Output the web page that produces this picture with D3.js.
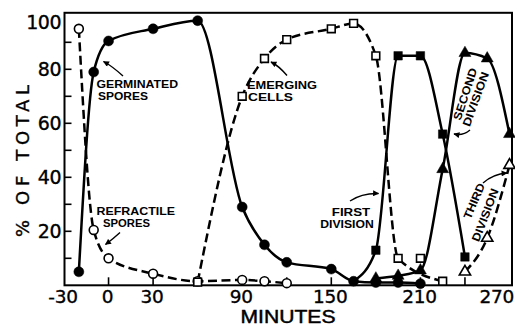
<!DOCTYPE html>
<html><head><meta charset="utf-8">
<script src="https://cdn.jsdelivr.net/npm/d3@7"></script>
<style>html,body{margin:0;padding:0;background:#fff;}svg{display:block;}</style>
</head><body>
<svg id="c" width="515" height="327"></svg>
<script>
// ---- data (minutes, % of total) ----
const germinatedSpores = [[-20,5],[-10,79],[0,90.5],[30,95],[60,98],[90,29],[105,15],[120,8.5],[150,6],[165,1.5],[180,1],[195,1],[210,0.6]];
const refractileSpores = [[-20,95],[-10,20.5],[0,10],[30,4.3],[60,1.5],[90,2],[105,1.5],[120,0.8]];
const emergingCells = [[60,1.2],[90,70],[105,84],[120,91],[150,95],[165,97],[180,85],[195,10],[225,1.5]];
const emergingCellsOffCurve = [[210,10]];
const firstDivision = [[165,1.5],[180,13],[195,85],[210,85],[225,56],[240,10.5]]; // first point shared with germinated curve
const secondDivision = [[180,2.5],[195,3.5],[210,5.5],[225,43],[240,86],[255,84],[270,56]];
const thirdDivision = [[240,5],[255,17.5],[270,44.5]];
const xTickLabels = [-30,0,30,90,150,210,270];
const xTickMarks = [0,30,60,90,120,150,180,210,240];
const yTickLabels = [20,40,60,80,100];
const yTickMarks = [10,20,30,40,50,60,70,80,90];

const svg = d3.select("#c");
const x = d3.scaleLinear().domain([-30,270]).range([64,509.5]);
const y = d3.scaleLinear().domain([0,100]).range([285.3,15.3]);
const fL = 64.5, fR = 512, fT = 12.8, fB = 285.3;

// frame
svg.append("rect").attr("x",fL).attr("y",fT).attr("width",fR-fL).attr("height",fB-fT)
  .attr("fill","none").attr("stroke","#000").attr("stroke-width",2);

// ticks (inward)
svg.append("g").selectAll("line").data(yTickMarks).join("line")
  .attr("x1",fL).attr("x2",fL+7).attr("y1",d=>y(d)).attr("y2",d=>y(d))
  .attr("stroke","#000").attr("stroke-width",1.6);
svg.append("g").selectAll("line").data(xTickMarks).join("line")
  .attr("x1",d=>x(d)).attr("x2",d=>x(d)).attr("y1",fB).attr("y2",fB-8)
  .attr("stroke","#000").attr("stroke-width",1.6);

// tick labels
const tickFont = "'DejaVu Sans', sans-serif";
svg.append("g").selectAll("text").data(yTickLabels).join("text")
  .attr("x",61).attr("y",d=> d===100 ? 28.6 : y(d)+7)
  .attr("text-anchor","end").attr("font-family",tickFont).attr("font-size",19)
  .attr("stroke","#000").attr("stroke-width",0.35)
  .attr("letter-spacing",-0.5).text(d=>d);
svg.append("g").selectAll("text").data(xTickLabels).join("text")
  .attr("x",d=> d===270 ? 514 : x(d)-1).attr("y",302.9)
  .attr("text-anchor",d=> d===270 ? "end":"middle").attr("font-family",tickFont).attr("font-size",18.5)
  .attr("stroke","#000").attr("stroke-width",0.35)
  .attr("letter-spacing",-0.3).text(d=>d);

// axis titles
svg.append("text").attr("transform","translate(28.5,161) rotate(-90)")
  .attr("text-anchor","middle").attr("font-family",tickFont).attr("font-size",18)
  .attr("stroke","#000").attr("stroke-width",0.35)
  .attr("textLength",152).attr("lengthAdjust","spacing").text("% OF TOTAL");
svg.append("text").attr("x",288).attr("y",323.2).attr("text-anchor","middle")
  .attr("font-family","'Liberation Sans', Arial, sans-serif").attr("font-size",17.5)
  .attr("textLength",95).attr("lengthAdjust","spacingAndGlyphs")
  .attr("stroke","#000").attr("stroke-width",0.45).text("MINUTES");

// lines
const line = d3.line().x(d=>x(d[0])).y(d=>y(d[1])).curve(d3.curveMonotoneX);
function drawLine(data, dashed){
  svg.append("path").attr("d",line(data)).attr("fill","none").attr("stroke","#000")
    .attr("stroke-width",2.5).attr("stroke-dasharray",dashed?"9,4.5":null);
}
drawLine(refractileSpores,true);
drawLine(emergingCells,true);
drawLine(thirdDivision,true);
drawLine(germinatedSpores,false);
drawLine(firstDivision,false);
drawLine(secondDivision,false);

// markers
function drawMarkers(data, type, size, filled){
  svg.append("g").selectAll("path").data(data).join("path")
    .attr("transform",d=>`translate(${x(d[0])},${y(d[1])})`)
    .attr("d",d3.symbol().type(type).size(size)())
    .attr("fill",filled?"#000":"#fff").attr("stroke","#000").attr("stroke-width",filled?0.5:1.6);
}
drawMarkers(refractileSpores,d3.symbolCircle,62,false);
drawMarkers(emergingCells,d3.symbolSquare,60,false);
drawMarkers(emergingCellsOffCurve,d3.symbolSquare,60,false);
drawMarkers(thirdDivision,d3.symbolTriangle,55,false);
drawMarkers(germinatedSpores,d3.symbolCircle,78,true);
drawMarkers(firstDivision.slice(1),d3.symbolSquare,72,true);
drawMarkers(secondDivision,d3.symbolTriangle,62,true);

// annotations
const annFont = "'Liberation Sans', Arial, sans-serif";
function label(txt, x0, y0, w, anchor){
  svg.append("text").attr("x",x0).attr("y",y0).attr("text-anchor",anchor||"start")
    .attr("font-family",annFont).attr("font-weight","bold").attr("font-size",11)
    .attr("textLength",w).attr("lengthAdjust","spacingAndGlyphs").text(txt);
}
label("GERMINATED",96.5,87.6,81.5); label("SPORES",98,100.2,50);
label("REFRACTILE",96.5,214.5,78.5); label("SPORES",103,227,47);
label("EMERGING",247,88.6,70); label("CELLS",248,101,45);
label("FIRST",351,215.6,38.5,"middle"); label("DIVISION",347,228.3,53.5,"middle");
function rlabel(txt, cx, cy, ang, w){
  svg.append("text").attr("transform",`translate(${cx},${cy}) rotate(${ang})`)
    .attr("text-anchor","middle").attr("dy","0.36em")
    .attr("font-family",annFont).attr("font-weight","bold").attr("font-size",11.5)
    .attr("textLength",w).attr("lengthAdjust","spacingAndGlyphs").text(txt);
}
rlabel("SECOND",465,94,-72,54); rlabel("DIVISION",475.5,99,-70,57);
rlabel("THIRD",474,201,-67,38); rlabel("DIVISION",485,215,-69,56);

// arrows
svg.append("defs").append("marker").attr("id","ah").attr("viewBox","0 0 10 10")
  .attr("refX",9).attr("refY",5).attr("markerWidth",7).attr("markerHeight",6)
  .attr("markerUnits","userSpaceOnUse").attr("orient","auto")
  .append("path").attr("d","M0,0 L10,5 L0,10 Z").attr("fill","#000");
const arrows = [
  "M123,76 Q112,66 103.5,61.5",
  "M120,232.5 Q113,239 105.5,244.5",
  "M287,75.5 Q279,66 271,62",
  "M350,201 Q362,193 378.5,193.5",
  "M470,130 Q463,136 454,134",
  "M483,183 Q493,174 507,173"
];
svg.append("g").selectAll("path").data(arrows).join("path").attr("d",d=>d)
  .attr("fill","none").attr("stroke","#000").attr("stroke-width",1.4).attr("marker-end","url(#ah)");
</script>
</body></html>
